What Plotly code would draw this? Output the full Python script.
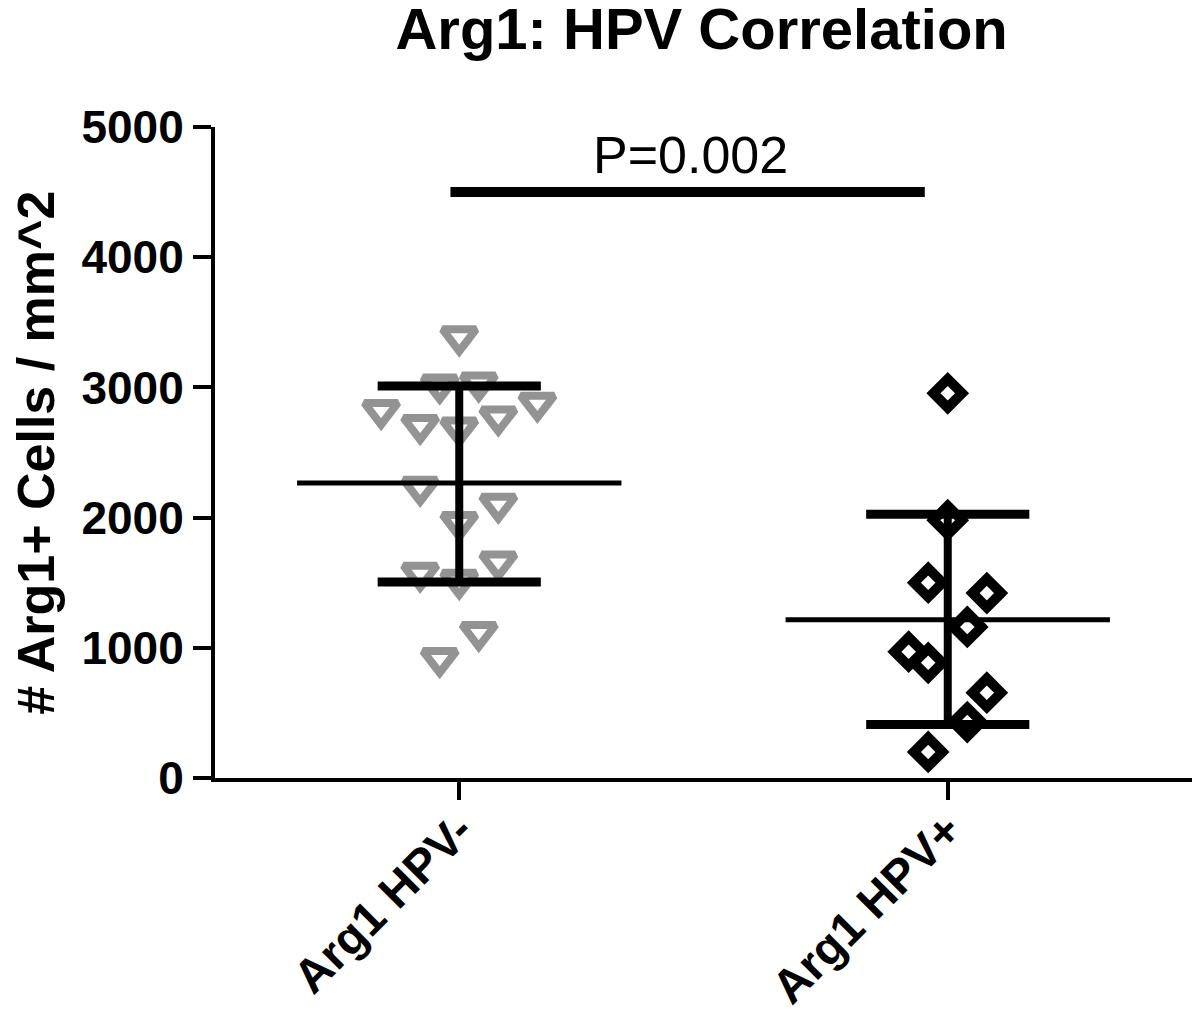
import plotly.graph_objects as go

# ---- data ----
categories = ["Arg1 HPV-", "Arg1 HPV+"]
hpv_neg = [3390, 3020, 3035, 2825, 2710, 2690, 2775, 2880, 2235, 2105, 1965, 1660, 1575, 1520, 1120, 920]
hpv_neg_jitter = [0, -0.04, 0.04, -0.16, -0.08, 0, 0.08, 0.16, -0.08, 0.08, 0, 0.08, -0.08, 0, 0.04, -0.04]
hpv_pos = [2955, 1980, 1500, 1420, 1160, 970, 885, 655, 430, 200]
hpv_pos_jitter = [0, 0, -0.04, 0.08, 0.04, -0.08, -0.04, 0.08, 0.04, -0.04]
means = [2266, 1215]
upper = [3010, 2025]
lower = [1505, 410]
sig_y = 4500
p_text = "P=0.002"
y_ticks = [0, 1000, 2000, 3000, 4000, 5000]

FONT = "Liberation Sans, Arial, sans-serif"

fig = go.Figure()

fig.add_trace(go.Scatter(
    x=[0 + j for j in hpv_neg_jitter], y=hpv_neg, mode="markers",
    marker=dict(symbol="triangle-down-open", size=29, color="#939393",
                line=dict(width=8, color="#939393")),
    showlegend=False))
fig.add_trace(go.Scatter(
    x=[1 + j for j in hpv_pos_jitter], y=hpv_pos, mode="markers",
    marker=dict(symbol="diamond-open", size=22, color="black",
                line=dict(width=10, color="black")),
    showlegend=False))

# mean lines and SD bars
for i in range(2):
    fig.add_trace(go.Scatter(x=[i - 0.332, i + 0.332], y=[means[i], means[i]], mode="lines",
                             line=dict(color="black", width=5), showlegend=False, hoverinfo="skip"))
    fig.add_trace(go.Scatter(x=[i, i], y=[lower[i], upper[i]], mode="lines",
                             line=dict(color="black", width=8), showlegend=False, hoverinfo="skip"))
    for v in (lower[i], upper[i]):
        fig.add_trace(go.Scatter(x=[i - 0.167, i + 0.167], y=[v, v], mode="lines",
                                 line=dict(color="black", width=9), showlegend=False, hoverinfo="skip"))

# significance bar
fig.add_trace(go.Scatter(x=[-0.018, 0.953], y=[sig_y, sig_y], mode="lines",
                         line=dict(color="black", width=10), showlegend=False, hoverinfo="skip"))
fig.add_annotation(x=0.473, y=sig_y, text=p_text, showarrow=False, yanchor="bottom", yshift=6,
                   font=dict(family=FONT, size=52, color="black"))

# y-axis title
fig.add_annotation(xref="paper", yref="paper", x=-0.184, y=0.5, text="# Arg1+ Cells / mm^2",
                   textangle=-90, showarrow=False, xanchor="center", yanchor="middle",
                   font=dict(family=FONT, size=52, color="black", weight="bold"))

fig.update_layout(
    width=1200, height=1017,
    margin=dict(l=207, r=16, t=119, b=247),
    plot_bgcolor="white", paper_bgcolor="white",
    title=dict(text="<b>Arg1: HPV Correlation</b>", x=0.578, xanchor="center",
               y=1.0, yanchor="top", yref="container",
               font=dict(family=FONT, size=58, color="black")),
    xaxis=dict(range=[-0.5, 1.5], tickvals=[0, 1], ticktext=categories, tickangle=-45,
               automargin=False, ticklabelstandoff=-16,
               showline=True, linecolor="black", linewidth=4, ticks="outside",
               ticklen=18, tickwidth=4, tickcolor="black", showgrid=False, zeroline=False,
               tickfont=dict(family=FONT, size=47, color="black", weight="bold")),
    yaxis=dict(range=[0, 5000], tickvals=y_ticks, showline=True, linecolor="black",
               automargin=False,
               linewidth=4, ticks="outside", ticklen=18, tickwidth=4, tickcolor="black",
               showgrid=False, zeroline=False,
               tickfont=dict(family=FONT, size=46, color="black", weight="bold")),
)

fig.write_html("out.html")
